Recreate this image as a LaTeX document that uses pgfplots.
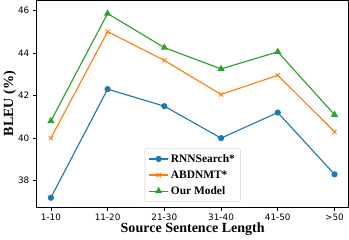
\documentclass[border=0pt]{standalone}
\usepackage{pgfplots}
\pgfplotsset{compat=1.18}
\usepackage{fontspec}
\setmainfont{Liberation Serif}
\newfontfamily\dejavu{DejaVu Sans}
\definecolor{tblue}{HTML}{1F77B4}
\definecolor{torange}{HTML}{FF7F0E}
\definecolor{tgreen}{HTML}{2CA02C}
\begin{document}
\begin{tikzpicture}[x=1bp,y=1bp]
\begin{axis}[
  scale only axis,
  width=299bp, height=198bp,
  xmin=-0.25, xmax=5.25,
  ymin=36.77, ymax=46.47,
  xtick={0,1,2,3,4,5},
  xticklabels={1-10,11-20,21-30,31-40,41-50,>50},
  ytick={38,40,42,44,46},
  tick align=outside,
  tick pos=left,
  major tick length=3.5bp,
  tick style={black, line width=0.6pt},
  axis line style={line width=0.6pt},
  ticklabel style={font=\dejavu\fontsize{8.5}{9}\selectfont},
  /pgf/number format/assume math mode=true,
  xlabel={\textbf{Source Sentence Length}},
  ylabel={\textbf{BLEU (\%)}},
  label style={font=\fontsize{13.5}{15}\selectfont\bfseries},
  xlabel style={yshift=5bp},
  ylabel style={yshift=-5bp},
  legend style={at={(0.5,0.025)}, anchor=south, font=\fontsize{11}{12}\selectfont\bfseries, draw=black!20, rounded corners=2pt, row sep=2.5pt, inner sep=3.5pt},
  legend image code/.code={\draw[#1] (0cm,0cm) -- (0.65cm,0cm); \draw[#1,mark repeat=2,mark phase=2] plot coordinates {(0cm,0cm) (0.325cm,0cm) (0.65cm,0cm)};},
  legend cell align=left,
  every axis plot/.append style={line width=1.1pt},
]
\addplot[color=tblue, mark=*, mark size=2.4pt] coordinates {(0,37.2) (1,42.3) (2,41.5) (3,40.0) (4,41.2) (5,38.3)};
\addlegendentry{RNNSearch*}
\addplot[color=torange, mark=x, mark size=2.8pt, mark options={line width=0.9pt}] coordinates {(0,40.0) (1,45.0) (2,43.65) (3,42.05) (4,42.95) (5,40.3)};
\addlegendentry{ABDNMT*}
\addplot[color=tgreen, mark=triangle*, mark size=2.9pt] coordinates {(0,40.8) (1,45.85) (2,44.25) (3,43.25) (4,44.05) (5,41.1)};
\addlegendentry{Our Model}
\end{axis}
\end{tikzpicture}
\end{document}
